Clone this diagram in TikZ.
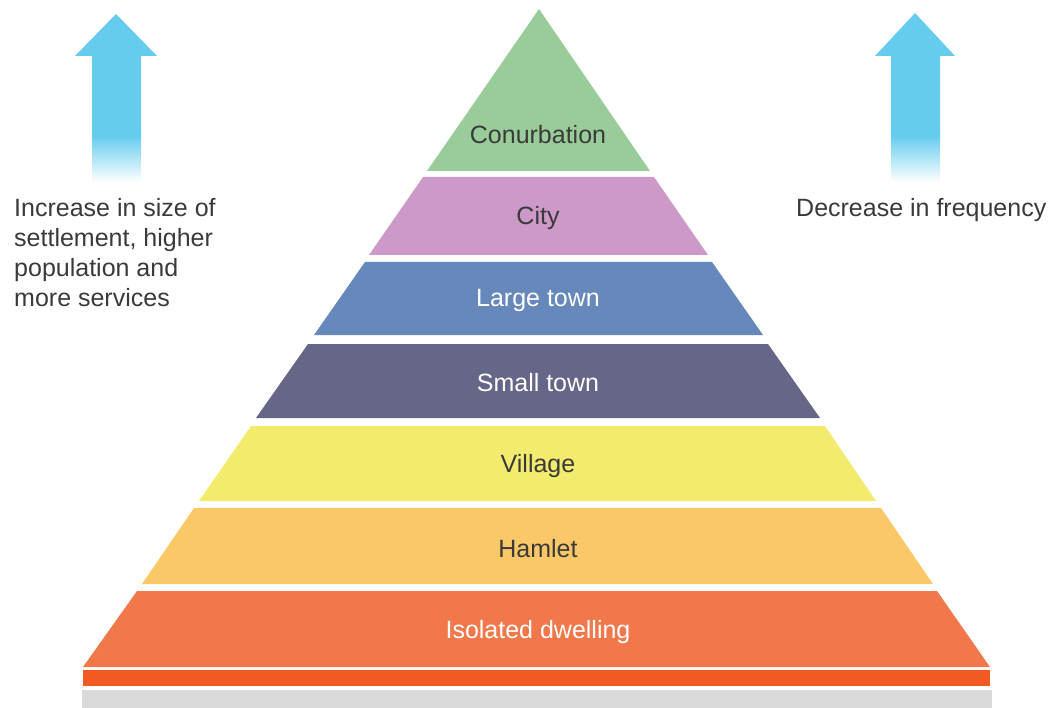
\documentclass[tikz,border=0pt]{standalone}
\usepackage{fontspec}
\setmainfont{Liberation Sans}
\usepackage{xcolor}
\usepackage{tikz}
\usetikzlibrary{positioning}

\definecolor{conurbcol}{HTML}{99CC99}
\definecolor{citycol}{HTML}{CC99C8}
\definecolor{largecol}{HTML}{6688BB}
\definecolor{smallcol}{HTML}{666688}
\definecolor{villagecol}{HTML}{F3EB6E}
\definecolor{hamletcol}{HTML}{FBC868}
\definecolor{isolcol}{HTML}{F1784A}
\definecolor{stripcol}{HTML}{F15A22}
\definecolor{groundcol}{HTML}{DADADA}
\definecolor{arrowcol}{HTML}{66CCEE}
\definecolor{txtcol}{HTML}{3A3A3A}

\begin{document}
\begin{tikzpicture}[x=1pt,y=-1pt,
	lbl/.style={font=\fontsize{25}{30}\selectfont, text=txtcol, inner sep=0pt},
	lblw/.style={lbl, text=white}]
	\useasboundingbox (0,0) rectangle (1054,708);

	% pyramid bands
	\fill[conurbcol] (539,9) -- (650,171) -- (427,171) -- cycle;
	\fill[citycol] (423,177) -- (654,177) -- (708,255) -- (369,255) -- cycle;
	\fill[largecol] (365,262) -- (712,262) -- (763,335) -- (314,335) -- cycle;
	\fill[smallcol] (308,344) -- (768,344) -- (820,418) -- (256,418) -- cycle;
	\fill[villagecol] (251,426) -- (825,426) -- (876,501) -- (199,501) -- cycle;
	\fill[hamletcol] (194,508) -- (881,508) -- (933,584) -- (142,584) -- cycle;
	\fill[isolcol] (137,591) -- (937,591) -- (990,667) -- (83,667) -- cycle;
	\fill[stripcol] (83,670) rectangle (990,686);
	\fill[groundcol] (82,690) rectangle (992,708);

	\node[lbl] (conurb) at (538,135) {Conurbation};
	\node[lbl] (city) at (538,218) {City};
	\node[lblw] (large) at (538,300) {Large town};
	\node[lblw] (small) at (538,383) {Small town};
	\node[lbl] (village) at (538,466) {Village};
	\node[lbl] (hamlet) at (538,549) {Hamlet};
	\node[lblw] (isol) at (538,632) {Isolated dwelling};

	% arrows
	\fill[arrowcol] (116,14) -- (157,56) -- (141,56) -- (141,136) -- (92,136) -- (92,56) -- (75,56) -- cycle;
	\shade[top color=arrowcol, bottom color=white] (92,136) rectangle (141,182);
	\fill[arrowcol] (915,13) -- (955,56) -- (940,56) -- (940,136) -- (891,136) -- (891,56) -- (875,56) -- cycle;
	\shade[top color=arrowcol, bottom color=white] (891,136) rectangle (940,182);

	\node[lbl, anchor=base west, align=left] (sizetxt) at (14,307) {Increase in size of\\settlement, higher\\population and\\more services};
	\node[lbl, anchor=base west] (freqtxt) at (796,217) {Decrease in frequency};
\end{tikzpicture}
\end{document}
